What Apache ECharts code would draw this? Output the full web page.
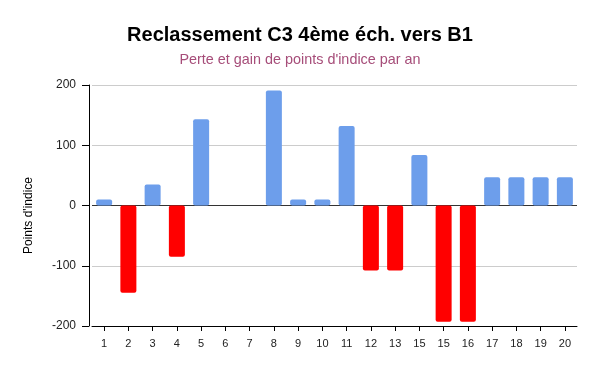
<!DOCTYPE html>
<html>
<head>
<meta charset="utf-8">
<script src="https://cdn.jsdelivr.net/npm/echarts@6/dist/echarts.min.js"></script>
<style>html,body{margin:0;padding:0;background:#fff}#c{width:600px;height:371px}</style>
</head>
<body>
<div id="c"></div>
<script>
const categories = ['1','2','3','4','5','6','7','8','9','10','11','12','13','15','15','16','17','18','19','20'];
const values = [10, -145, 35, -85, 143, 0, 0, 191, 10, 10, 132, -108, -108, 84, -193, -193, 47, 47, 47, 47];
const yTicks = [-200, -100, 0, 100, 200];

const chart = echarts.init(document.getElementById('c'), null, {renderer: 'canvas'});
chart.setOption({
  animation: false,
  backgroundColor: '#fff',
  title: {
    text: 'Reclassement C3 4ème éch. vers B1',
    subtext: "Perte et gain de points d'indice par an",
    left: 'center',
    top: 20,
    itemGap: 8,
    textStyle: {fontFamily: 'Liberation Sans, Arial', fontSize: 20, fontWeight: 'bold', color: '#000'},
    subtextStyle: {fontFamily: 'Liberation Sans, Arial', fontSize: 14.4, color: '#a64d79'}
  },
  grid: {left: 92, right: 23, top: 85, bottom: 45, containLabel: false},
  xAxis: {
    type: 'category',
    data: categories,
    axisLine: {show: true, onZero: false, lineStyle: {color: '#000', width: 1}},
    axisTick: {show: true, alignWithLabel: true, length: 5, lineStyle: {color: '#000'}},
    axisLabel: {color: '#222', fontSize: 11, fontFamily: 'Liberation Sans, Arial', margin: 12, interval: 0},
    splitLine: {show: false}
  },
  yAxis: {
    type: 'value',
    min: yTicks[0],
    max: yTicks[yTicks.length - 1],
    interval: 100,
    offset: 3,
    name: "Points d'indice",
    nameLocation: 'middle',
    nameGap: 54,
    nameTextStyle: {color: '#000', fontSize: 12, fontFamily: 'Liberation Sans, Arial', padding: [0, 20, 0, 0]},
    axisLine: {show: true, lineStyle: {color: '#000'}},
    axisTick: {show: true, length: 7, lineStyle: {color: '#000'}},
    axisLabel: {color: '#222', fontSize: 12, fontFamily: 'Liberation Sans, Arial', margin: 13},
    splitLine: {show: true, lineStyle: {color: ['#cccccc', '#cccccc', '#333333', '#cccccc', '#cccccc'], width: 1}}
  },
  series: [{
    type: 'bar',
    data: values,
    barWidth: 16,
    itemStyle: {
      borderRadius: 2,
      color: function (p) { return p.value < 0 ? '#ff0000' : '#6d9eeb'; }
    }
  }]
});
</script>
</body>
</html>
